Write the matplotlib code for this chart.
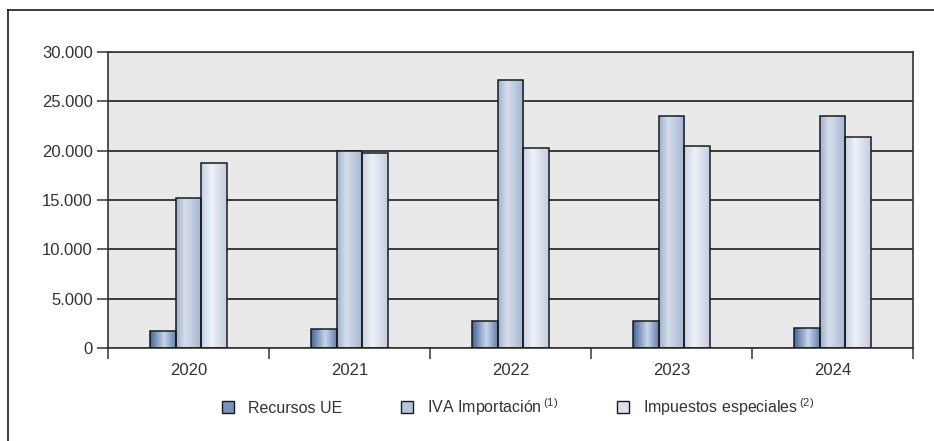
import numpy as np
import matplotlib
matplotlib.use("Agg")
import matplotlib.pyplot as plt
from matplotlib.colors import LinearSegmentedColormap
from matplotlib.patches import Patch
from matplotlib.lines import Line2D

# ---- data ----
years = ["2020", "2021", "2022", "2023", "2024"]
recursos_ue = [1700, 1900, 2750, 2750, 2050]
iva_importacion = [15200, 20000, 27200, 23550, 23550]
impuestos_especiales = [18800, 19750, 20250, 20500, 21400]
series_labels = ["Recursos UE", r"IVA Importación$\,^{\mathrm{(1)}}$",
                 r"Impuestos especiales$\,^{\mathrm{(2)}}$"]
yticks = [0, 5000, 10000, 15000, 20000, 25000, 30000]
ytick_labels = ["0", "5.000", "10.000", "15.000", "20.000", "25.000", "30.000"]

plt.rcParams['font.family'] = ['Liberation Sans', 'DejaVu Sans']
plt.rcParams['mathtext.fontset'] = 'custom'
plt.rcParams['mathtext.rm'] = 'Liberation Sans'
plt.rcParams['mathtext.it'] = 'Liberation Sans:italic'
plt.rcParams['mathtext.bf'] = 'Liberation Sans:bold'

text_color = '#333333'
grads = [
    [(0, '#44649a'), (0.55, '#c9d5e8'), (1, '#5f7fb0')],
    [(0, '#9fb0cd'), (0.35, '#d6deeb'), (1, '#a3b4d1')],
    [(0, '#c5d0e3'), (0.4, '#eef2f8'), (1, '#c2cde1')],
]
mids = ['#7a93bd', '#b6c4dc', '#dbe2ee']

fig = plt.figure(figsize=(9.34, 4.41), dpi=100)
ax = fig.add_axes([108/934, 93/441, 805/934, 296/441])
ax.set_facecolor('#e9e9e9')

x = np.arange(len(years))
w = 0.158
data = [recursos_ue, iva_importacion, impuestos_especiales]
grad_arr = np.linspace(0, 1, 256).reshape(1, -1)
for i, vals in enumerate(data):
    cmap = LinearSegmentedColormap.from_list(f"g{i}", grads[i])
    bars = ax.bar(x + (i - 1) * w, vals, width=w, facecolor='none',
                  edgecolor='#1a1a1a', linewidth=1.1, zorder=3)
    for r in bars:
        x0, y0 = r.get_x(), r.get_y()
        im = ax.imshow(grad_arr, cmap=cmap, aspect='auto',
                       extent=[x0, x0 + r.get_width(), y0, y0 + r.get_height()],
                       zorder=2.5, interpolation='bilinear')
        im.set_clip_path(r)

ax.set_xlim(-0.5, len(years) - 0.5)
ax.set_ylim(0, 30000)
ax.set_yticks(yticks)
ax.set_yticklabels(ytick_labels)
ax.set_xticks(x)
ax.set_xticklabels(years)
ax.set_xticks(np.arange(-0.5, len(years)), minor=True)
ax.tick_params(axis='x', which='major', length=0, pad=11, labelsize=12, labelcolor=text_color)
ax.tick_params(axis='x', which='minor', length=8, width=1.2, color='#444444', direction='out')
ax.tick_params(axis='y', length=8, width=1.2, color='#444444', pad=3, labelsize=12, labelcolor=text_color)
ax.grid(axis='y', color='#1e1e1e', linewidth=1.2, zorder=1)
ax.set_axisbelow(True)
for s in ax.spines.values():
    s.set_color('#333333')
    s.set_linewidth(1.2)

handles = [Patch(facecolor=mids[i], edgecolor='#1a1a1a', linewidth=1.0) for i in range(3)]
leg = fig.legend(handles, series_labels, loc='center', bbox_to_anchor=(518/934, 0.077),
                 ncol=3, frameon=False, fontsize=11.5, handlelength=0.75, handleheight=0.75,
                 handletextpad=0.85, columnspacing=3.7, labelcolor=text_color)

# outer frame (top and left lines)
fig.add_artist(Line2D([8/934, 1.0], [1 - 10/441, 1 - 10/441], transform=fig.transFigure,
                      color='#1a1a1a', linewidth=1.2))
fig.add_artist(Line2D([8/934, 8/934], [0, 1 - 10/441], transform=fig.transFigure,
                      color='#1a1a1a', linewidth=1.2))

fig.savefig('out.png', dpi=100)
